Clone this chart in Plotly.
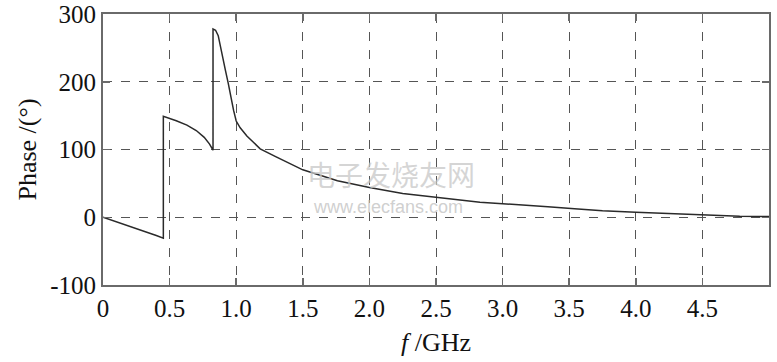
import plotly.graph_objects as go

# Data
freq_ghz = [0, 0.1, 0.2, 0.3, 0.4, 0.453, 0.453, 0.55, 0.63, 0.70, 0.76, 0.80, 0.826, 0.826,
            0.845, 0.865, 0.88, 0.90, 0.92, 0.94, 0.96, 0.98, 1.0, 1.03, 1.08, 1.13, 1.18,
            1.3, 1.5, 1.76, 2.0, 2.25, 2.5, 2.83, 3.0, 3.15, 3.34, 3.54, 3.75, 4.0, 4.24,
            4.5, 4.78, 5.0]
phase_deg = [0, -6.5, -13, -20, -27, -31, 149, 142.5, 136, 128, 118, 108, 99, 278,
             276, 268, 255, 236, 216, 198, 177, 158, 142, 132, 120, 110, 101,
             89, 70, 54, 44, 35, 29, 22, 20, 18.5, 15.5, 12.5, 9.5, 7.5, 5.5,
             3.5, 1.5, 1]

x_tickvals = [0, 0.5, 1.0, 1.5, 2.0, 2.5, 3.0, 3.5, 4.0, 4.5]
x_ticktext = ["0", "0.5", "1.0", "1.5", "2.0", "2.5", "3.0", "3.5", "4.0", "4.5"]
y_tickvals = [-100, 0, 100, 200, 300]
y_ticktext = ["-100", "0", "100", "200", "300"]

FONT = "Liberation Serif, Times New Roman, serif"

fig = go.Figure()
fig.add_trace(go.Scatter(
    x=freq_ghz, y=phase_deg, mode="lines",
    line=dict(color="#2a2a2a", width=1.5),
    showlegend=False, hoverinfo="skip",
))

axis_common = dict(
    showline=True, mirror="ticks", linecolor="#6a6a6a", linewidth=2,
    showgrid=True, gridcolor="#555555", gridwidth=1, griddash="dash",
    ticks="inside", ticklen=7, tickcolor="#6a6a6a", tickwidth=1.5,
    zeroline=False, automargin=False, ticklabeloverflow="allow",
    tickfont=dict(family=FONT, size=25, color="#111111"),
)

fig.update_xaxes(
    range=[0, 5], tickvals=x_tickvals, ticktext=x_ticktext,
    title=dict(text="<i>f</i> /GHz", font=dict(family=FONT, size=26, color="#111111"), standoff=12),
    **axis_common,
)
fig.update_yaxes(
    range=[-100, 300], tickvals=y_tickvals, ticktext=y_ticktext,
    title=dict(text="Phase /(°)", font=dict(family=FONT, size=26, color="#111111"), standoff=6),
    **axis_common,
)

# faint watermark present in the reference
fig.add_annotation(x=2.16, y=64, xref="x", yref="y", text="电子发烧友网", showarrow=False,
                   font=dict(family="Noto Sans CJK SC", size=28, color="rgba(200,200,200,0.75)"))
fig.add_annotation(x=2.14, y=15, xref="x", yref="y", text="www.elecfans.com", showarrow=False,
                   font=dict(family="Liberation Sans, Arial, sans-serif", size=18, color="rgba(195,195,195,0.8)"))

fig.update_layout(
    width=777, height=362,
    margin=dict(l=103, r=8, t=14, b=77),
    paper_bgcolor="white", plot_bgcolor="white",
    font=dict(family=FONT, color="#111111"),
)

# remove the browser's default 8px page margin so the figure fills the window exactly
fig.write_html(
    "out.html",
    config={"displayModeBar": False, "staticPlot": True},
    post_script="document.body.style.margin='0';document.body.style.overflow='hidden';",
)
